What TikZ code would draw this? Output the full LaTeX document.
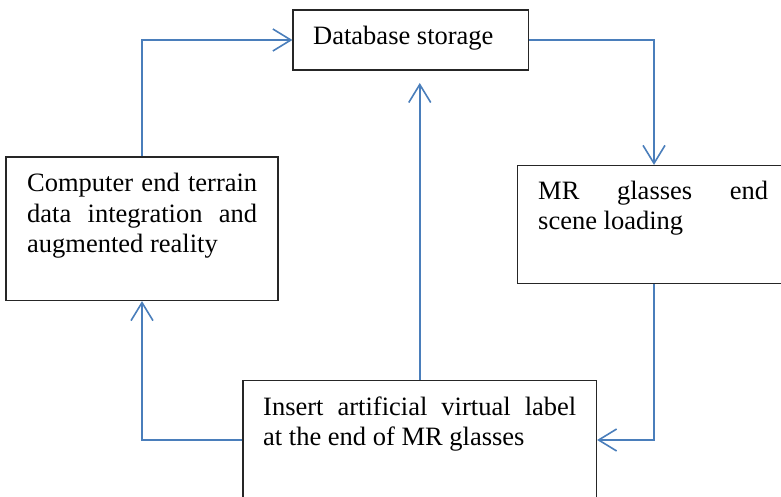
\documentclass[tikz,border=0pt]{standalone}
\usepackage{fontspec}
\setmainfont{Liberation Serif}
\usetikzlibrary{arrows.meta}
\definecolor{flow}{RGB}{74,126,187}
\begin{document}
\begin{tikzpicture}[x=1pt,y=-1pt,
  box/.style={draw=black!85,line width=1.2pt,inner sep=0pt},
  txt/.style={inner sep=0pt,font=\fontsize{26.5}{30}\selectfont,align=justify,anchor=base west},
  arr/.style={draw=flow,line width=1.6pt,-{Straight Barb[length=18pt,width=22pt]}}]
\useasboundingbox (0,0) rectangle (781,497);
\clip (0,0) rectangle (781,497);
% boxes
\node[box,minimum width=235.5pt,minimum height=60pt] (db) at (410.75,40) {};
\node[box,minimum width=272pt,minimum height=143.5pt] (comp) at (142,228.75) {};
\node[box,minimum width=273pt,minimum height=118pt] (mr) at (654,224.5) {};
\node[box,minimum width=353.5pt,minimum height=119pt] (ins) at (419.75,440) {};
% texts
\node[txt] (dbt) at (313,45) {Database storage};
\node[txt,text width=230pt] (compt) at (27,192) {Computer end terrain\linebreak data integration and\linebreak augmented reality};
\node[txt,text width=230pt] (mrt) at (538,200) {MR glasses end\linebreak scene loading};
\node[txt,text width=313pt] (inst) at (263,415.7) {Insert artificial virtual label\linebreak at the end of MR glasses};
% connectors
\coordinate (uptip) at (419.75,83);
\draw[arr] (comp.north) |- (db.west);
\draw[arr] (db.east) -| (mr.north);
\draw[arr] (mr.south) |- (ins.east);
\draw[arr] (ins.north) -- (uptip);
\draw[arr] (ins.west) -| (comp.south);
\end{tikzpicture}
\end{document}
